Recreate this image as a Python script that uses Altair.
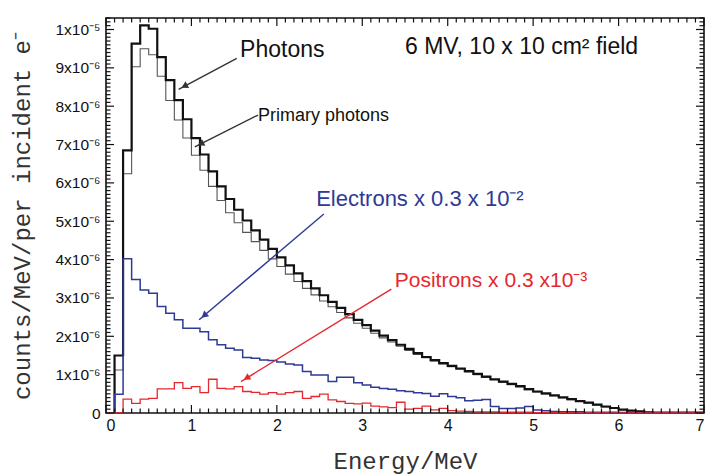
import math
import altair as alt
import pandas as pd

# ---------------- data (values in units of 1e-6 counts/MeV/per incident e-) -------------
bin_lo = [round(i * 0.1, 1) for i in range(70)]   # left edges of 0.1 MeV bins
E_MAX = 7.0

photons_total = [
    0.0, 1.50, 6.85, 9.63, 10.11, 10.02, 9.28, 8.68, 8.16, 7.66,
    7.17, 6.74, 6.30, 5.91, 5.58, 5.30, 5.02, 4.76, 4.52, 4.28,
    4.06, 3.85, 3.64, 3.44, 3.25, 3.07, 2.90, 2.74, 2.58, 2.43,
    2.29, 2.15, 2.02, 1.90, 1.78, 1.67, 1.56, 1.46, 1.38, 1.30,
    1.23, 1.16, 1.09, 1.02, 0.95, 0.88, 0.82, 0.76, 0.70, 0.62,
    0.56, 0.51, 0.46, 0.41, 0.36, 0.31, 0.27, 0.22, 0.17, 0.13,
    0.09, 0.06, 0.04, 0.02, 0.01, 0.01, 0.01, 0.01, 0.01, 0.01]

photons_primary = [
    0.0, 1.12, 6.24, 9.03, 9.50, 9.34, 8.78, 8.15, 7.64, 7.17,
    6.72, 6.33, 5.91, 5.54, 5.22, 4.96, 4.71, 4.47, 4.24, 4.02,
    3.82, 3.62, 3.43, 3.25, 3.08, 2.92, 2.77, 2.62, 2.48, 2.34,
    2.21, 2.08, 1.96, 1.85, 1.74, 1.63, 1.53, 1.44, 1.36, 1.28,
    1.21, 1.14, 1.07, 1.00, 0.93, 0.86, 0.80, 0.74, 0.68, 0.61,
    0.55, 0.50, 0.45, 0.40, 0.35, 0.30, 0.26, 0.21, 0.16, 0.12,
    0.09, 0.06, 0.04, 0.02, 0.01, 0.01, 0.01, 0.01, 0.01, 0.01]

electrons = [
    0.0, 0.49, 4.02, 3.48, 3.21, 3.12, 2.78, 2.60, 2.43, 2.21,
    2.21, 2.12, 1.91, 1.78, 1.69, 1.64, 1.45, 1.43, 1.38, 1.37,
    1.33, 1.28, 1.25, 1.08, 0.99, 0.99, 0.82, 0.93, 0.93, 0.79,
    0.73, 0.67, 0.64, 0.62, 0.58, 0.56, 0.53, 0.51, 0.44, 0.50,
    0.43, 0.40, 0.32, 0.33, 0.35, 0.17, 0.12, 0.12, 0.13, 0.17,
    0.08, 0.06, 0.04, 0.03, 0.03, 0.03, 0.02, 0.02, 0.02, 0.02,
    0.01, 0.01, 0.0, 0.0, 0.0, 0.0, 0.0, 0.0, 0.0, 0.0]

positrons = [
    0.0, 0.0, 0.36, 0.25, 0.36, 0.38, 0.63, 0.63, 0.79, 0.64,
    0.69, 0.53, 0.88, 0.64, 0.63, 0.69, 0.56, 0.54, 0.49, 0.53,
    0.49, 0.53, 0.56, 0.38, 0.43, 0.49, 0.34, 0.30, 0.25, 0.24,
    0.26, 0.18, 0.16, 0.14, 0.28, 0.10, 0.12, 0.18, 0.08, 0.12,
    0.06, 0.05, 0.04, 0.03, 0.03, 0.03, 0.02, 0.02, 0.02, 0.02,
    0.01, 0.01, 0.01, 0.01, 0.0, 0.0, 0.0, 0.0, 0.0, 0.0,
    0.0, 0.0, 0.0, 0.0, 0.0, 0.0, 0.0, 0.0, 0.0, 0.0]

# axis tick labels
x_tick_values = [0, 1, 2, 3, 4, 5, 6, 7]
y_tick_values = [0, 1, 2, 3, 4, 5, 6, 7, 8, 9, 10]

# annotations
ann_text = ["Photons", "6 MV, 10 x 10 cm\u00b2 field", "Primary photons",
            "Electrons x 0.3 x 10\u207b\u00b2", "Positrons x 0.3 x10\u207b\u00b3"]
ann_x = [1.57, 3.50, 1.78, 2.46, 3.38]
ann_y = [9.47, 9.54, 7.74, 5.58, 3.45]
ann_color = ["#111111", "#111111", "#111111", "#2e3a94", "#e5282e"]
ann_size = [23, 23, 18, 22, 21]

arrow_x1 = [1.53, 1.78, 2.55, 3.34]
arrow_y1 = [9.25, 7.77, 5.19, 3.23]
arrow_x2 = [0.85, 1.04, 1.09, 1.58]
arrow_y2 = [8.44, 6.94, 2.43, 0.82]
arrow_color = ["#333333", "#333333", "#2e3a94", "#e5282e"]

Y_MAX = 10.3
W, H = 598, 395

# ---------------- shared scales / axes ----------------
xs = alt.Scale(domain=[0, E_MAX], nice=False, zero=False)
ys = alt.Scale(domain=[0, Y_MAX], nice=False)

X_AX = alt.Axis(
    title="Energy/MeV", values=x_tick_values, format="d",
    ticks=False, domain=False, grid=False, labelPadding=4,
    labelFont="Liberation Sans", labelFontSize=16, labelColor="#111",
    titleFont="Liberation Mono", titleFontSize=24, titleFontWeight="normal",
    titleColor="#333", titleBaseline="middle", titleY=48)
Y_AX = alt.Axis(
    title="counts/MeV/per incident e\u207b", values=y_tick_values,
    labelExpr="datum.value == 0 ? '0' : (datum.value == 10 ? '1x10\u207b\u2075' : datum.value + 'x10\u207b\u2076')",
    ticks=False, domain=False, grid=False, labelPadding=6,
    labelFont="Liberation Sans", labelFontSize=15.5, labelColor="#111",
    titleFont="Liberation Mono", titleFontSize=24, titleFontWeight="normal",
    titleColor="#333", titleBaseline="middle", titleX=-84)


def X(f="x"):
    return alt.X(f"{f}:Q", scale=xs, axis=X_AX, title="Energy/MeV")


def Y(f="y"):
    return alt.Y(f"{f}:Q", scale=ys, axis=Y_AX, title="counts/MeV/per incident e\u207b")


def step_df(vals):
    return pd.DataFrame({"x": bin_lo + [E_MAX], "y": list(vals) + [vals[-1]]})


def step_layer(vals, color, width):
    return alt.Chart(step_df(vals)).mark_line(
        interpolate="step-after", color=color, strokeWidth=width, clip=True
    ).encode(x=X(), y=Y())


layers = []
layers.append(step_layer(photons_primary, "#555555", 1.1))
layers.append(step_layer(photons_total, "#111111", 2.2))
layers.append(step_layer(electrons, "#2e3a94", 1.5))
layers.append(step_layer(positrons, "#e5282e", 1.3))

# ---------------- tick marks (inward, on all four sides) ----------------
xt_vals = [round(i * 0.1, 1) for i in range(71)]
yt_vals = [round(i * 0.1, 1) for i in range(104)]
xt = pd.DataFrame({"x": xt_vals, "major": [i % 10 == 0 for i in range(71)]})
yt = pd.DataFrame({"y": yt_vals, "major": [i % 10 == 0 for i in range(104)]})

MAJ, MIN = 8, 4.5
for is_major, ln in [(True, MAJ), (False, MIN)]:
    sub_x = xt[xt["major"] == is_major]
    sub_y = yt[yt["major"] == is_major]
    base_x = alt.Chart(sub_x).mark_rule(color="#111", strokeWidth=1.2)
    base_y = alt.Chart(sub_y).mark_rule(color="#111", strokeWidth=1.2)
    layers.append(base_x.encode(x=X(), y=alt.value(H), y2=alt.value(H - ln)))
    layers.append(base_x.encode(x=X(), y=alt.value(0), y2=alt.value(ln)))
    layers.append(base_y.encode(y=Y(), x=alt.value(0), x2=alt.value(ln)))
    layers.append(base_y.encode(y=Y(), x=alt.value(W), x2=alt.value(W - ln)))

# ---------------- arrows ----------------
sx = W / E_MAX
sy = H / Y_MAX
head_r = 3.8
head_h = math.sqrt(3) * head_r
head_x, head_y, head_ang = [], [], []
for x1, y1, x2, y2 in zip(arrow_x1, arrow_y1, arrow_x2, arrow_y2):
    dxp = (x2 - x1) * sx
    dyp = -(y2 - y1) * sy
    L = math.hypot(dxp, dyp)
    ang = math.degrees(math.atan2(dxp, -dyp)) % 360
    cx = x2 - (dxp / L) * head_h / sx
    cy = y2 + (dyp / L) * head_h / sy
    head_x.append(cx)
    head_y.append(cy)
    head_ang.append(ang)

arr = pd.DataFrame({"x": arrow_x1, "y": arrow_y1, "x2": arrow_x2, "y2": arrow_y2,
                    "c": arrow_color})
layers.append(alt.Chart(arr).mark_rule(strokeWidth=1.4).encode(
    x=X(), y=Y(), x2="x2:Q", y2="y2:Q", color=alt.Color("c:N", scale=None)))

heads = pd.DataFrame({"x": head_x, "y": head_y, "a": head_ang, "c": arrow_color})
layers.append(alt.Chart(heads).mark_point(
    shape="triangle-up", filled=True, opacity=1, size=(2 * head_r) ** 2).encode(
    x=X(), y=Y(),
    angle=alt.Angle("a:Q", scale=None), color=alt.Color("c:N", scale=None)))

# ---------------- text annotations ----------------
ann = pd.DataFrame({"x": ann_x, "y": ann_y, "t": ann_text, "c": ann_color, "s": ann_size})
layers.append(alt.Chart(ann).mark_text(
    align="left", baseline="middle", font="Liberation Sans").encode(
    x=X(), y=Y(),
    text="t:N", color=alt.Color("c:N", scale=None), size=alt.Size("s:Q", scale=None)))

chart = alt.layer(*layers).properties(
    width=W, height=H,
    autosize=alt.AutoSizeParams(type="none"),
    padding={"left": 106, "top": 18, "right": 2, "bottom": 62},
    background="white",
).configure_view(stroke="#111", strokeWidth=1.6)

chart.save("out.html", embed_options={"renderer": "svg", "actions": False})
